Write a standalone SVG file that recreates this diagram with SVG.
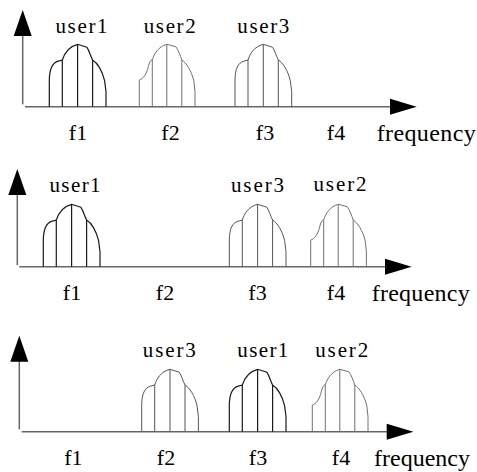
<svg xmlns="http://www.w3.org/2000/svg" width="477" height="472" viewBox="0 0 477 472" font-family="Liberation Serif, Times New Roman, serif">
  <style>
    .axis { stroke: #666; stroke-width: 1.5; fill: none; }
    .head { fill: #000; stroke: none; }
    .lbl { font-size: 21px; text-anchor: middle; }
    .flbl { font-size: 22px; text-anchor: middle; }
    .axlbl { font-size: 24px; }
    .dark { stroke: #1a1a1a; stroke-width: 1.2; fill: none; }
    .mid { stroke: #555; stroke-width: 1; fill: none; }
    .light { stroke: #707070; stroke-width: 1; fill: none; }
  </style>
  <defs>
    <!-- spectrum block, origin at left edge on the baseline -->
    <path id="specA" d="M0,0 V-25.7 C0,-38 3,-44 9,-45.6 L13,-46.7 C15,-53 19,-60 28.3,-62.4 L37.5,-59.5 C40,-56 41,-51 43.3,-46.7 C48,-44 53,-36 55.3,-26 L56.7,-15 V0 M13,0 V-46.7 M28.3,0 V-62.4 M43.3,0 V-46.7"/>
    <path id="specB" d="M0,0 V-26.7 C4,-28 7,-32 9,-40 C10,-44 11,-46.5 13,-47 C15,-53 19,-60 27.5,-62.4 L36.5,-60 C39,-57 41,-51 42.5,-46.7 C47,-44 52,-36 54.5,-26 L55.7,-15 V0 M13,0 V-47 M27.5,0 V-62.4 M42.5,0 V-46.7"/>
    <path id="upHead" d="M0,-26 L9,0 L-9,0 Z"/>
    <path id="rightHead" d="M26.7,0 L0,-8 L0,8 Z"/>
  </defs>

  <!-- top row: users on f1, f2, f3 -->
  <g id="panel1">
    <g id="axes1">
      <line class="axis" x1="22.7" y1="104.3" x2="22.7" y2="34"/>
      <use href="#upHead" class="head" x="22.7" y="36"/>
      <line class="axis" x1="25" y1="106.7" x2="392" y2="106.7"/>
      <use href="#rightHead" class="head" x="390" y="106.7"/>
    </g>
    <g id="p1-user1"><use href="#specA" class="dark" x="49.3" y="106.7"/><text class="lbl" x="81.5" y="33" textLength="52">user1</text></g>
    <g id="p1-user2"><use href="#specB" class="light" x="139.3" y="106.7"/><text class="lbl" x="169.7" y="33" textLength="52">user2</text></g>
    <g id="p1-user3"><use href="#specA" class="mid" x="235" y="106.7"/><text class="lbl" x="263.3" y="33" textLength="52">user3</text></g>
    <g id="p1-freqs">
      <text class="flbl" x="78" y="140">f1</text>
      <text class="flbl" x="170.5" y="140">f2</text>
      <text class="flbl" x="265" y="140">f3</text>
      <text class="flbl" x="336" y="140">f4</text>
      <text class="axlbl" x="376.7" y="141" textLength="99">frequency</text>
    </g>
  </g>

  <!-- middle row: f2 left free, user2 moved to f4 -->
  <g id="panel2">
    <g id="axes2">
      <line class="axis" x1="17.3" y1="265" x2="17.3" y2="193"/>
      <use href="#upHead" class="head" x="17.3" y="195"/>
      <line class="axis" x1="19.3" y1="266.7" x2="387" y2="266.7"/>
      <use href="#rightHead" class="head" x="385" y="266.7"/>
    </g>
    <g id="p2-user1"><use href="#specA" class="dark" x="43.3" y="266.7"/><text class="lbl" x="75" y="192" textLength="51">user1</text></g>
    <g id="p2-user3"><use href="#specA" class="mid" x="229.3" y="266.7"/><text class="lbl" x="257.5" y="192.3" textLength="53">user3</text></g>
    <g id="p2-user2"><use href="#specB" class="light" x="310.7" y="266.7"/><text class="lbl" x="340" y="191" textLength="53">user2</text></g>
    <g id="p2-freqs">
      <text class="flbl" x="72" y="300">f1</text>
      <text class="flbl" x="165" y="300">f2</text>
      <text class="flbl" x="257.5" y="300">f3</text>
      <text class="flbl" x="336" y="300">f4</text>
      <text class="axlbl" x="371.7" y="301" textLength="98">frequency</text>
    </g>
  </g>

  <!-- bottom row: f1 left free, user3 on f2 -->
  <g id="panel3">
    <g id="axes3">
      <line class="axis" x1="19.3" y1="429.3" x2="19.3" y2="359.7"/>
      <use href="#upHead" class="head" x="19.3" y="361.7"/>
      <line class="axis" x1="21.7" y1="431.7" x2="389" y2="431.7"/>
      <use href="#rightHead" class="head" x="386.7" y="431.7"/>
    </g>
    <g id="p3-user3"><use href="#specA" class="mid" x="141.7" y="431.7"/><text class="lbl" x="169.3" y="357" textLength="53">user3</text></g>
    <g id="p3-user1"><use href="#specA" class="dark" x="229.3" y="431.7"/><text class="lbl" x="262.8" y="357.3" textLength="51">user1</text></g>
    <g id="p3-user2"><use href="#specB" class="light" x="312.3" y="431.7"/><text class="lbl" x="341.7" y="357" textLength="53">user2</text></g>
    <g id="p3-freqs">
      <text class="flbl" x="73.3" y="465">f1</text>
      <text class="flbl" x="166" y="465">f2</text>
      <text class="flbl" x="258" y="465">f3</text>
      <text class="flbl" x="341" y="465">f4</text>
      <text class="axlbl" x="374" y="466" textLength="96">frequency</text>
    </g>
  </g>
</svg>
